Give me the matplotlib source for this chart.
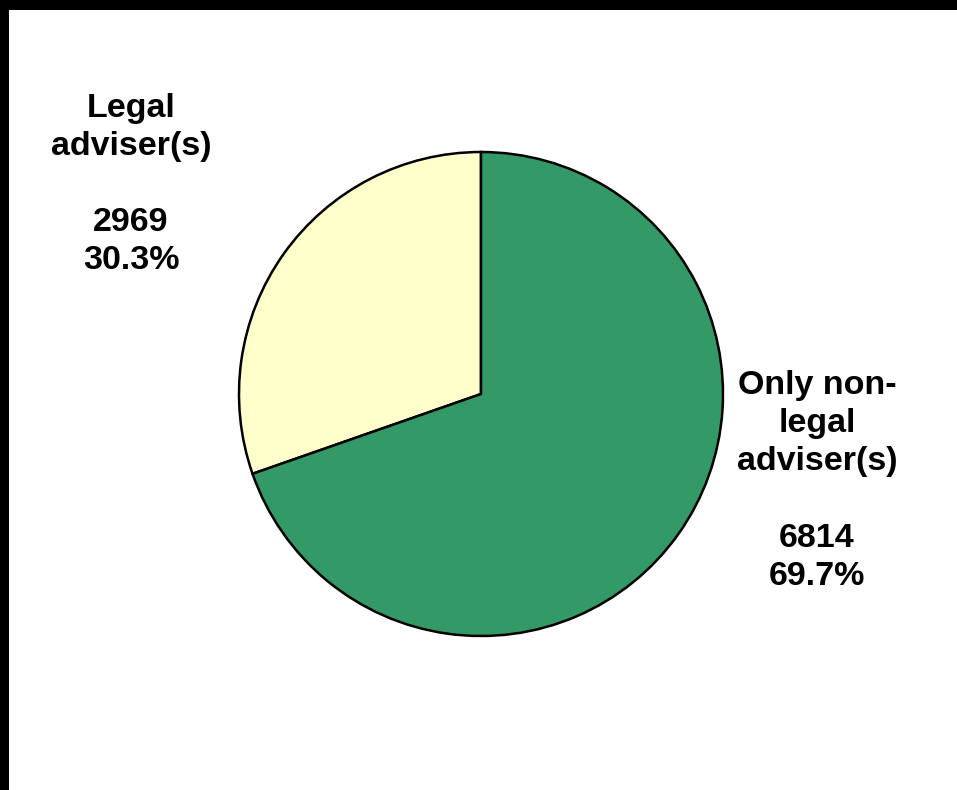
import numpy as np
import matplotlib
matplotlib.use("Agg")
import matplotlib.pyplot as plt
from matplotlib.patches import Rectangle

# data
names = ["Legal\nadviser(s)", "Only non-\nlegal\nadviser(s)"]
counts = [2969, 6814]
colours = ["#FFFFCC", "#339966"]

W, H = 957, 790
fig = plt.figure(figsize=(W / 100, H / 100), dpi=100)
fig.patch.set_facecolor("white")

# black strips along top and left edge
fig.patches.append(Rectangle((0, 1 - 10 / H), 1, 10 / H, transform=fig.transFigure,
                             facecolor="black", edgecolor="none"))
fig.patches.append(Rectangle((0, 0), 9 / W, 1, transform=fig.transFigure,
                             facecolor="black", edgecolor="none"))

# pie centre (481, 394) px, radius 242 px
cx, cy, r = 481, 394, 242
ax = fig.add_axes([(cx - r) / W, (H - cy - r) / H, 2 * r / W, 2 * r / H])
ax.pie(counts, colors=colours, startangle=90, counterclock=True, radius=1,
       wedgeprops=dict(edgecolor="black", linewidth=1.8))
ax.set_xlim(-1, 1)
ax.set_ylim(-1, 1)
ax.set_aspect("equal")
ax.axis("off")

total = sum(counts)
label_pos = [(131, 184.5), (817, 481)]
for name, n, (px, py) in zip(names, counts, label_pos):
    txt = f"{name}\n\n{n}\n{100 * n / total:.1f}%"
    fig.text(px / W, 1 - py / H, txt, ha="center", va="center", ma="center",
             fontsize=24.5, fontweight="bold", family="Liberation Sans",
             linespacing=1.30)

fig.savefig("out.png", dpi=100)
